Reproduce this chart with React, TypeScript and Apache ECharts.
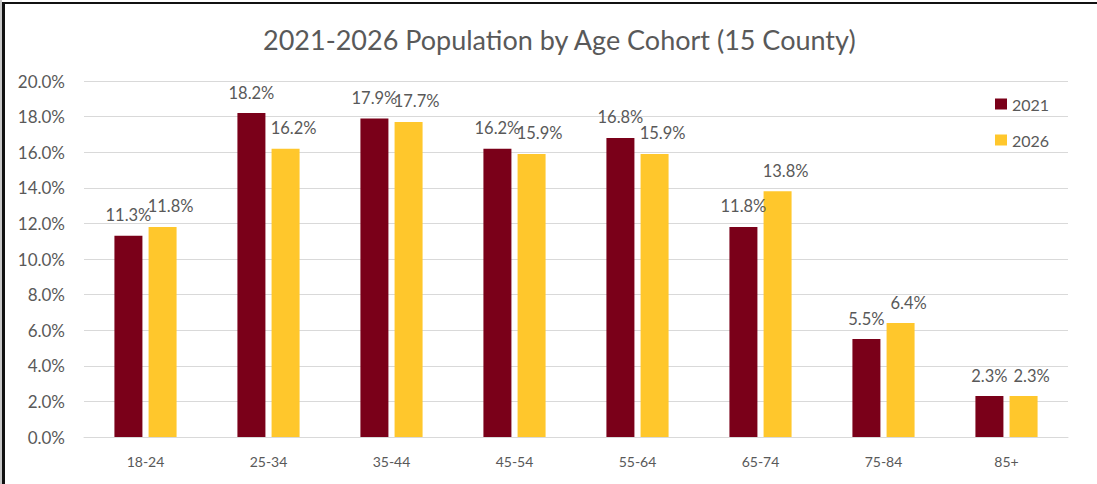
import React, { useEffect, useRef } from "react";
import * as echarts from "echarts";

const categories = ["18-24", "25-34", "35-44", "45-54", "55-64", "65-74", "75-84", "85+"];
const values2021 = [11.3, 18.2, 17.9, 16.2, 16.8, 11.8, 5.5, 2.3];
const values2026 = [11.8, 16.2, 17.7, 15.9, 15.9, 13.8, 6.4, 2.3];
const seriesNames = ["2021", "2026"];
const titleText = "2021-2026 Population by Age Cohort (15 County)";

const FONT = "Lato, 'Noto Sans', sans-serif";

export default function App() {
  const ref = useRef<HTMLDivElement>(null);
  useEffect(() => {
    if (!ref.current) return;
    const chart = echarts.init(ref.current, null, { renderer: "svg" });
    const label = {
      show: true,
      position: "top" as const,
      distance: 12,
      color: "#595959",
      fontSize: 16.5,
      fontFamily: FONT,
      formatter: (p: any) => p.value.toFixed(1) + "%",
    };
    chart.setOption({
      animation: false,
      backgroundColor: "#ffffff",
      textStyle: { fontFamily: FONT },
      title: {
        text: titleText,
        left: 258,
        top: 21,
        textStyle: { color: "#595959", fontSize: 27, fontWeight: "normal", fontFamily: FONT },
      },
      legend: {
        orient: "vertical",
        left: 990,
        top: 91,
        itemWidth: 12,
        itemHeight: 11,
        itemGap: 20,
        icon: "rect",
        textStyle: { color: "#595959", fontSize: 16, fontFamily: FONT, padding: [0, 0, 0, 0] },
        data: seriesNames,
      },
      grid: { left: 84, right: 29, top: 81, bottom: 47, containLabel: false },
      xAxis: {
        type: "category",
        data: categories,
        axisTick: { show: false },
        axisLine: { lineStyle: { color: "#d9d9d9" } },
        axisLabel: { color: "#595959", fontSize: 14, margin: 17, fontFamily: FONT },
      },
      yAxis: {
        type: "value",
        min: 0,
        max: 20,
        interval: 2,
        axisLabel: {
          color: "#595959",
          fontSize: 17,
          margin: 19,
          fontFamily: FONT,
          formatter: (v: number) => v.toFixed(1) + "%",
        },
        splitLine: { lineStyle: { color: "#d9d9d9" } },
      },
      series: [
        {
          name: seriesNames[0],
          type: "bar",
          data: values2021,
          barWidth: 28,
          barGap: "22%",
          itemStyle: { color: "#7a0019" },
          label,
        },
        {
          name: seriesNames[1],
          type: "bar",
          data: values2026,
          barWidth: 28,
          itemStyle: { color: "#ffc72c" },
          label: { ...label, offset: [8, 0] },
        },
      ],
      graphic: [
        { type: "rect", left: 0, top: 0, shape: { width: 2, height: 484 }, style: { fill: "#c8c8c8" }, silent: true },
        { type: "rect", left: 2, top: 2, shape: { width: 3, height: 482 }, style: { fill: "#111111" }, silent: true },
        { type: "rect", left: 2, top: 2, shape: { width: 1095, height: 2 }, style: { fill: "#111111" }, silent: true },
      ],
    });
    return () => chart.dispose();
  }, []);
  return (
    <div
      ref={ref}
      style={{ position: "absolute", left: 0, top: 0, width: 1097, height: 484 }}
    />
  );
}
